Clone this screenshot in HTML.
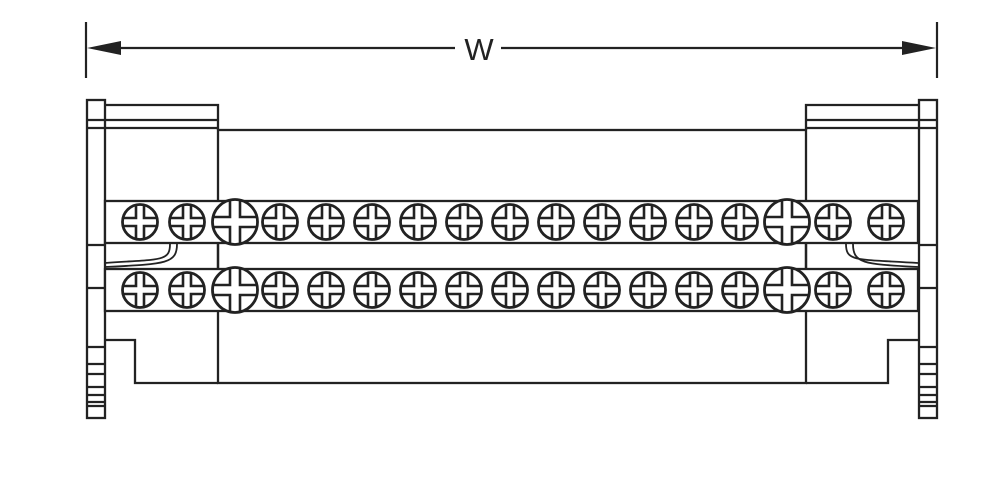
<!DOCTYPE html>
<html><head><meta charset="utf-8"><style>html,body{margin:0;background:#fff}svg{display:block}</style></head>
<body>
<svg width="1000" height="500" viewBox="0 0 1000 500" xmlns="http://www.w3.org/2000/svg">
<defs>
<clipPath id="cs"><circle cx="0" cy="0" r="17"/></clipPath>
<clipPath id="cb"><circle cx="0" cy="0" r="22"/></clipPath>
<g id="s">
<circle cx="0" cy="0" r="17.5" fill="#fff" stroke="#222" stroke-width="2.8"/>
<path clip-path="url(#cs)" d="M-4,-20 V-4 H-20 M-20,4 H-4 V20 M4,20 V4 H20 M20,-4 H4 V-20" fill="none" stroke="#222" stroke-width="2.6"/>
</g>
<g id="b">
<circle cx="0" cy="0" r="22.5" fill="#fff" stroke="#222" stroke-width="2.8"/>
<path clip-path="url(#cb)" d="M-5,-25 V-5 H-25 M-25,5 H-5 V25 M5,25 V5 H25 M25,-5 H5 V-25" fill="none" stroke="#222" stroke-width="2.6"/>
</g>
</defs>
<g fill="none" stroke="#222" stroke-width="2.2">
<line x1="86" y1="22" x2="86" y2="78"/>
<line x1="937" y1="22" x2="937" y2="78"/>
<line x1="100" y1="48" x2="455" y2="48"/>
<line x1="501" y1="48" x2="925" y2="48"/>
</g>
<path d="M87,48 L121,41 L121,55 Z M936,48 L902,41 L902,55 Z" fill="#222"/>
<text x="479" y="60" font-family="Liberation Sans, sans-serif" font-size="31" text-anchor="middle" fill="#222">W</text>
<g fill="none" stroke="#222" stroke-width="2.3">
<rect x="218" y="130" width="588" height="253"/>
<path d="M105,105 H218 V130 M105,120 H218 M105,128 H218"/>
<path d="M105,340 H135 V383 H218"/>
<path d="M806,130 V105 H919 M806,120 H919 M806,128 H919"/>
<path d="M919,340 H888 V383 H806"/>
<rect x="87" y="100" width="18" height="318"/>
<rect x="919" y="100" width="18" height="318"/>
<path d="M87,120 H105 M87,128 H105 M87,245 H105 M87,288 H105 M87,347 H105 M87,364 H105 M87,374 H105 M87,387 H105 M87,395 H105 M87,402 H105 M87,406 H105"/>
<path d="M919,120 H937 M919,128 H937 M919,245 H937 M919,288 H937 M919,347 H937 M919,364 H937 M919,374 H937 M919,387 H937 M919,395 H937 M919,402 H937 M919,406 H937"/>
<rect x="105" y="201" width="813" height="42" fill="#fff"/>
<rect x="105" y="269" width="813" height="42" fill="#fff"/>
<line x1="218" y1="243" x2="218" y2="269"/>
<line x1="806" y1="243" x2="806" y2="269"/>
<path d="M170,244 C170,262 160,259 105,263" stroke-width="1.8"/>
<path d="M177,244 C177,264 165,264 105,267" stroke-width="1.8"/>
<path d="M846,244 C846,262 856,259 918,263" stroke-width="1.8"/>
<path d="M853,244 C853,264 865,264 918,267" stroke-width="1.8"/>
</g>
<g>
<use href="#s" x="140" y="222"/><use href="#s" x="187" y="222"/><use href="#b" x="235" y="222"/>
<use href="#s" x="280" y="222"/><use href="#s" x="326" y="222"/><use href="#s" x="372" y="222"/>
<use href="#s" x="418" y="222"/><use href="#s" x="464" y="222"/><use href="#s" x="510" y="222"/>
<use href="#s" x="556" y="222"/><use href="#s" x="602" y="222"/><use href="#s" x="648" y="222"/>
<use href="#s" x="694" y="222"/><use href="#s" x="740" y="222"/><use href="#b" x="787" y="222"/>
<use href="#s" x="833" y="222"/><use href="#s" x="886" y="222"/>
<use href="#s" x="140" y="290"/><use href="#s" x="187" y="290"/><use href="#b" x="235" y="290"/>
<use href="#s" x="280" y="290"/><use href="#s" x="326" y="290"/><use href="#s" x="372" y="290"/>
<use href="#s" x="418" y="290"/><use href="#s" x="464" y="290"/><use href="#s" x="510" y="290"/>
<use href="#s" x="556" y="290"/><use href="#s" x="602" y="290"/><use href="#s" x="648" y="290"/>
<use href="#s" x="694" y="290"/><use href="#s" x="740" y="290"/><use href="#b" x="787" y="290"/>
<use href="#s" x="833" y="290"/><use href="#s" x="886" y="290"/>
</g>
</svg>
</body></html>
